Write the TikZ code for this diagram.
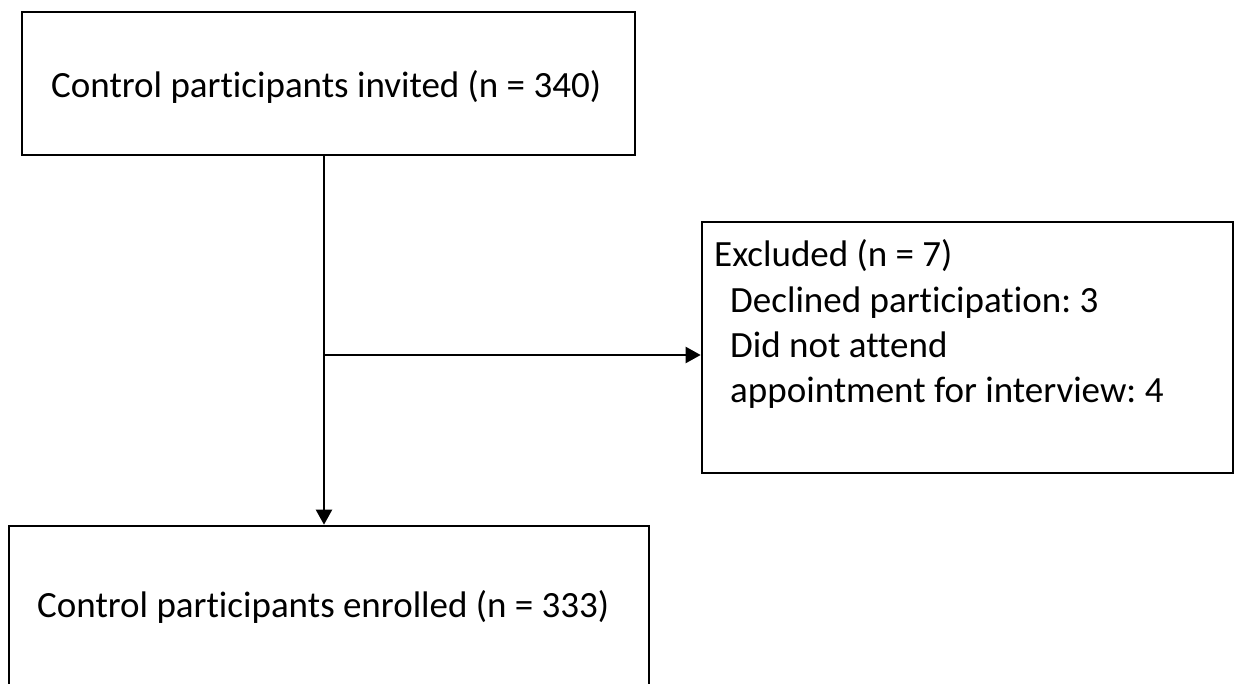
\documentclass[tikz,border=0pt]{standalone}
\usepackage{fontspec}
\setmainfont{Carlito}[Ligatures={NoCommon}]
\usetikzlibrary{arrows.meta}
\frenchspacing
\begin{document}
\begin{tikzpicture}[x=1pt,y=-1pt,
  box/.style={draw=black,line width=2.6pt,rectangle,inner sep=0pt},
  lbl/.style={anchor=base west,inner sep=0pt,font=\fontsize{37}{45}\selectfont},
  conn/.style={draw=black,line width=2.2pt,-{Triangle[length=15pt,width=16pt]}}]
\useasboundingbox (0,0) rectangle (1240,684);
\clip (0,0) rectangle (1240,684);
\fill[white] (0,0) rectangle (1240,684);
\node[box,minimum width=613pt,minimum height=143pt] (invited) at (328.5,83.5) {};
\node[box,minimum width=531pt,minimum height=251pt] (excluded) at (967.5,347.5) {};
\node[box,minimum width=640pt,minimum height=180pt] (enrolled) at (329,616) {};
\node[lbl] (t1) at (51,98) {Control participants invited (n = 340)};
\node[lbl] (t2a) at (714,267) {Excluded (n = 7)};
\node[lbl] (t2b) at (730,313) {Declined participation: 3};
\node[lbl] (t2c) at (730,358) {Did not attend};
\node[lbl] (t2d) at (730,403) {appointment for interview: 4};
\node[lbl] (t3) at (37,617) {Control participants enrolled (n = 333)};
\coordinate (vx) at (324,0);
\coordinate (hy) at (0,355);
\draw[conn] (invited.south -| vx) -- (enrolled.north -| vx);
\draw[conn] (vx |- hy) -- (excluded.west |- hy);
\end{tikzpicture}
\end{document}
